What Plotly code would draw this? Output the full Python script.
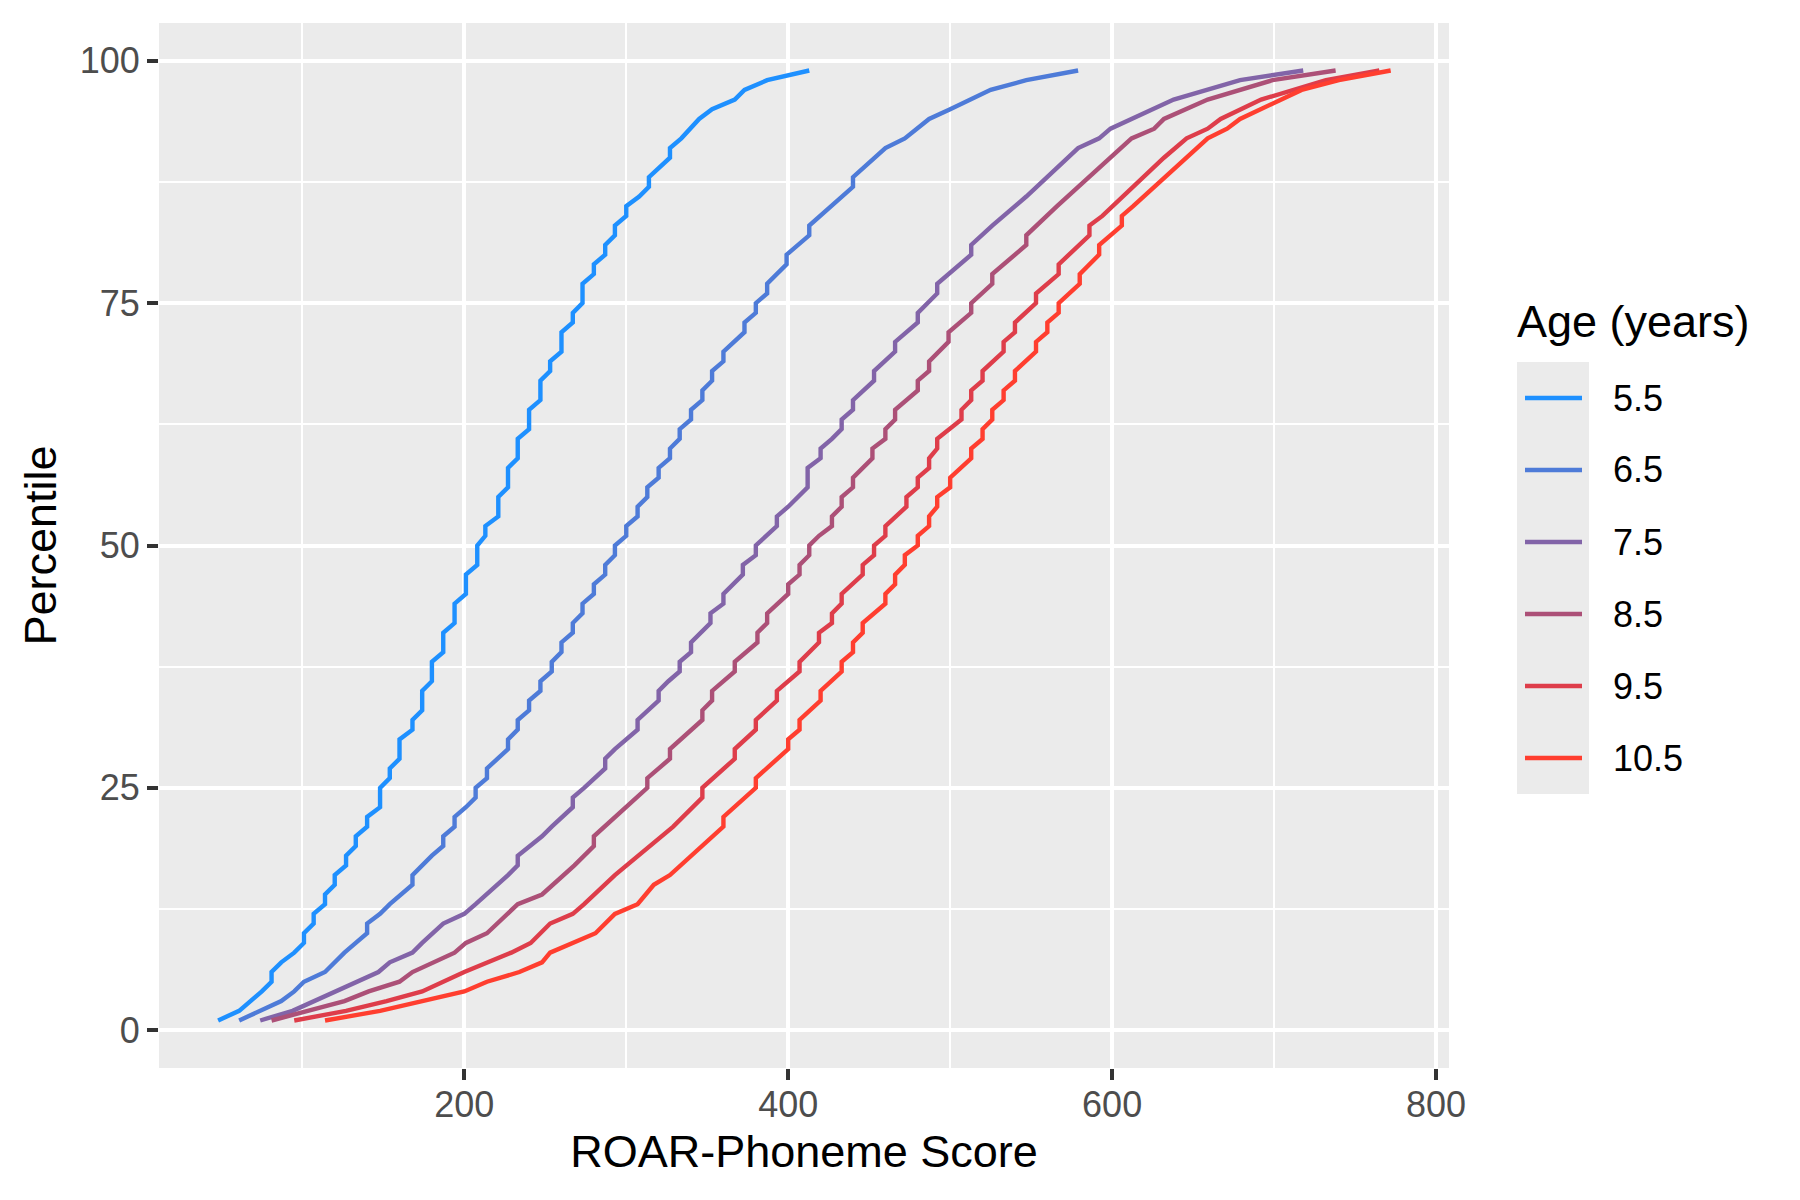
"""
ROAR-Phoneme 分数百分位曲线
"""
import plotly.graph_objects as go

# 年龄组和颜色
ages = ['5.5', '6.5', '7.5', '8.5', '9.5', '10.5']
colors = ['#1E90FF', '#4E7BD8', '#8264A8', '#AC5077', '#DE3D4A', '#FF3E2F']

# 每个年龄组: (分数, 百分位)
age_5_5 = [(48, 1), (61, 2), (75, 4), (81, 5), (81, 6), (87, 7), (95, 8), (101, 9), (101, 10),
           (107, 11), (107, 12), (114, 13), (114, 14), (120, 15), (120, 16), (127, 17), (127, 18),
           (133, 19), (133, 20), (140, 21), (140, 22), (148, 23), (148, 25), (154, 26), (154, 27),
           (160, 28), (160, 30), (168, 31), (168, 32), (174, 33), (174, 35), (180, 36), (180, 38),
           (187, 39), (187, 41), (194, 42), (194, 44), (201, 45), (201, 47), (208, 48), (208, 50),
           (213, 51), (213, 52), (221, 53), (221, 55), (227, 56), (227, 58), (233, 59), (233, 61),
           (240, 62), (240, 64), (247, 65), (247, 67), (253, 68), (253, 69), (260, 70), (260, 72),
           (267, 73), (267, 74), (273, 75), (273, 77), (280, 78), (280, 79), (287, 80), (287, 81),
           (293, 82), (293, 83), (300, 84), (300, 85), (308, 86), (314, 87), (314, 88), (327, 90),
           (327, 91), (334, 92), (345, 94), (353, 95), (367, 96), (373, 97), (387, 98), (413, 99)]

age_6_5 = [(61, 1), (87, 3), (95, 4), (101, 5), (114, 6), (126, 8), (133, 9), (140, 10), (140, 11),
           (148, 12), (154, 13), (168, 15), (168, 16), (174, 17), (180, 18), (187, 19), (187, 20),
           (194, 21), (194, 22), (201, 23), (207, 24), (207, 25), (214, 26), (214, 27), (227, 29),
           (227, 30), (233, 31), (233, 32), (240, 33), (240, 34), (247, 35), (247, 36), (254, 37),
           (254, 38), (260, 39), (260, 40), (267, 41), (267, 42), (273, 43), (273, 44), (280, 45),
           (280, 46), (287, 47), (287, 48), (293, 49), (293, 50), (300, 51), (300, 52), (307, 53),
           (307, 54), (313, 55), (313, 56), (320, 57), (320, 58), (327, 59), (327, 60), (333, 61),
           (333, 62), (340, 63), (340, 64), (347, 65), (347, 66), (353, 67), (353, 68), (360, 69),
           (360, 70), (373, 72), (373, 73), (380, 74), (380, 75), (387, 76), (387, 77), (399, 79),
           (399, 80), (413, 82), (413, 83), (427, 85), (440, 87), (440, 88), (453, 90), (460, 91),
           (472, 92), (487, 94), (500, 95), (525, 97), (547, 98), (579, 99)]

age_7_5 = [(74, 1), (94, 2), (147, 6), (154, 7), (168, 8), (174, 9), (187, 11), (200, 12), (207, 13),
           (214, 14), (227, 16), (233, 17), (233, 18), (248, 20), (254, 21), (267, 23), (267, 24),
           (274, 25), (287, 27), (287, 28), (293, 29), (307, 31), (307, 32), (320, 34), (320, 35),
           (326, 36), (333, 37), (333, 38), (340, 39), (340, 40), (352, 42), (352, 43), (360, 44),
           (360, 45), (372, 47), (372, 48), (380, 49), (380, 50), (393, 52), (393, 53), (400, 54),
           (412, 56), (412, 58), (420, 59), (420, 60), (427, 61), (433, 62), (433, 63), (440, 64),
           (440, 65), (453, 67), (453, 68), (466, 70), (466, 71), (480, 73), (480, 74), (492, 76),
           (492, 77), (513, 80), (513, 81), (526, 83), (547, 86), (566, 89), (579, 91), (592, 92),
           (599, 93), (625, 95), (638, 96), (679, 98), (718, 99)]

age_8_5 = [(81, 1), (126, 3), (141, 4), (160, 5), (168, 6), (194, 8), (201, 9), (214, 10), (233, 13),
           (248, 14), (268, 17), (280, 19), (280, 20), (293, 22), (306, 24), (313, 25), (313, 26),
           (327, 28), (327, 29), (347, 32), (347, 33), (353, 34), (353, 35), (367, 37), (367, 38),
           (381, 40), (381, 41), (387, 42), (387, 43), (400, 45), (400, 46), (407, 47), (407, 48),
           (413, 49), (413, 50), (419, 51), (427, 52), (427, 53), (433, 54), (433, 55), (440, 56),
           (440, 57), (452, 59), (452, 60), (460, 61), (460, 62), (466, 63), (466, 64), (480, 66),
           (480, 67), (487, 68), (487, 69), (499, 71), (499, 72), (513, 74), (513, 75), (526, 77),
           (526, 78), (547, 81), (547, 82), (566, 85), (586, 88), (606, 91), (612, 92), (626, 93),
           (632, 94), (659, 96), (699, 98), (738, 99)]

age_9_5 = [(95, 1), (127, 2), (152, 3), (174, 4), (200, 6), (214, 7), (229, 8), (241, 9), (253, 11),
           (267, 12), (274, 13), (293, 16), (307, 18), (315, 19), (329, 21), (347, 24), (347, 25),
           (367, 28), (367, 29), (380, 31), (380, 32), (393, 34), (393, 35), (407, 37), (407, 38),
           (419, 40), (419, 41), (427, 42), (427, 43), (433, 44), (433, 45), (446, 47), (446, 48),
           (453, 49), (453, 50), (460, 51), (460, 52), (473, 54), (473, 55), (480, 56), (480, 57),
           (487, 58), (487, 59), (492, 60), (492, 61), (507, 63), (507, 64), (513, 65), (513, 66),
           (520, 67), (520, 68), (533, 70), (533, 71), (540, 72), (540, 73), (553, 75), (553, 76),
           (567, 78), (567, 79), (586, 82), (586, 83), (594, 84), (607, 86), (632, 90), (646, 92),
           (659, 93), (667, 94), (692, 96), (732, 98), (765, 99)]

age_10_5 = [(114, 1), (148, 2), (200, 4), (214, 5), (234, 6), (248, 7), (253, 8), (281, 10), (293, 12),
            (307, 13), (317, 15), (327, 16), (360, 21), (360, 22), (380, 25), (380, 26), (400, 29),
            (400, 30), (407, 31), (407, 32), (420, 34), (420, 35), (433, 37), (433, 38), (440, 39),
            (440, 40), (446, 41), (446, 42), (460, 44), (460, 45), (466, 46), (466, 47), (472, 48),
            (472, 49), (480, 50), (480, 51), (487, 52), (487, 53), (492, 54), (492, 55), (500, 56),
            (500, 57), (513, 59), (513, 60), (520, 61), (520, 62), (526, 63), (526, 64), (533, 65),
            (533, 66), (540, 67), (540, 68), (553, 70), (553, 71), (560, 72), (560, 73), (567, 74),
            (567, 75), (580, 77), (580, 78), (592, 80), (592, 81), (606, 83), (606, 84), (613, 85),
            (626, 87), (646, 90), (659, 92), (671, 93), (679, 94), (717, 97), (740, 98), (772, 99)]

series = [age_5_5, age_6_5, age_7_5, age_8_5, age_9_5, age_10_5]

# 页面像素 -> paper 坐标 (绘图区: 左 159, 宽 1290, 底 1068, 高 1045)
def px_x(px):
    return (px - 159) / 1290


def px_y(py):
    return (1068 - py) / 1045


fig = go.Figure()

for age, color, pts in zip(ages, colors, series):
    fig.add_trace(go.Scatter(
        x=[p[0] for p in pts],
        y=[p[1] for p in pts],
        mode='lines',
        name=age,
        line=dict(color=color, width=4.4),
        showlegend=False,
    ))

# 手动图例: 灰色底、线段、标签
fig.add_shape(type='rect', xref='paper', yref='paper',
              x0=px_x(1517), x1=px_x(1589), y0=px_y(794), y1=px_y(362),
              fillcolor='#EBEBEB', line=dict(width=0), layer='below')
fig.add_annotation(text='Age (years)', xref='paper', yref='paper',
                   x=px_x(1515), y=px_y(321), xanchor='left', yanchor='middle',
                   showarrow=False, font=dict(size=45, color='black'))
for i, (age, color) in enumerate(zip(ages, colors)):
    yc = 398 + 72 * i
    fig.add_shape(type='line', xref='paper', yref='paper',
                  x0=px_x(1525), x1=px_x(1582), y0=px_y(yc), y1=px_y(yc),
                  line=dict(color=color, width=4.4))
    fig.add_annotation(text=age, xref='paper', yref='paper',
                       x=px_x(1611), y=px_y(yc), xanchor='left', yanchor='middle',
                       showarrow=False, font=dict(size=36, color='black'))

axis_common = dict(
    showgrid=True, gridcolor='white', gridwidth=4.4,
    zeroline=False, showline=False,
    ticks='outside', ticklen=11, tickwidth=4.4, tickcolor='#333333',
    tickfont=dict(size=36, color='#4D4D4D'),
)

fig.update_layout(
    width=1800, height=1200,
    margin=dict(l=151, r=359, t=15, b=140),
    paper_bgcolor='white',
    plot_bgcolor='#EBEBEB',
    font=dict(family='Liberation Sans, Arial, sans-serif', color='black'),
    showlegend=False,
    xaxis=dict(
        axis_common,
        range=[11.5, 808],
        tickvals=[200, 400, 600, 800],
        ticklabelstandoff=-6,
        minor=dict(tickvals=[100, 300, 500, 700], showgrid=True, gridcolor='white',
                   gridwidth=2.2, ticks=''),
        title=dict(text='ROAR-Phoneme Score', font=dict(size=45, color='black'), standoff=11),
    ),
    yaxis=dict(
        axis_common,
        range=[-3.9, 103.9],
        tickvals=[0, 25, 50, 75, 100],
        minor=dict(tickvals=[12.5, 37.5, 62.5, 87.5], showgrid=True, gridcolor='white',
                   gridwidth=2.2, ticks=''),
        title=dict(text='Percentile', font=dict(size=45, color='black'), standoff=8),
    ),
)

fig.write_html("out.html")
